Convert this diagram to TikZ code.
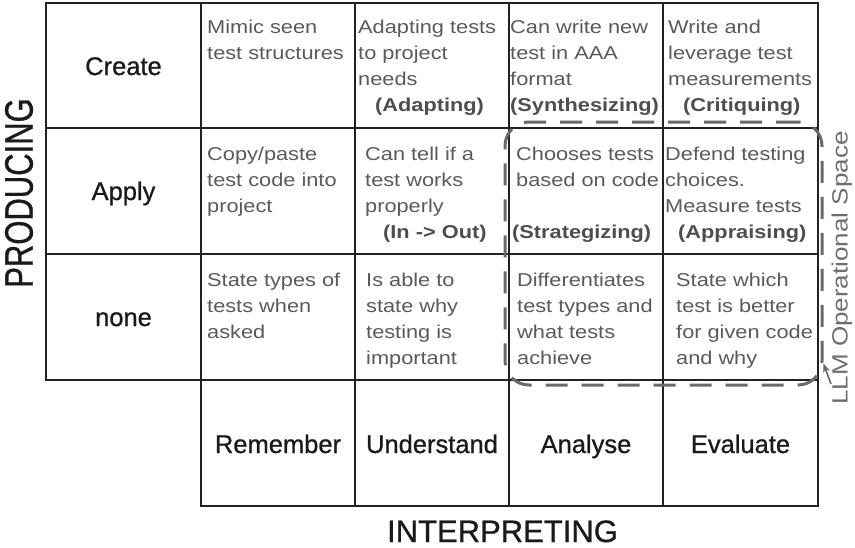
\documentclass[tikz,border=0pt]{standalone}
\usepackage{fontspec}
\setmainfont{Liberation Sans}
\newfontfamily\heavyfont[FakeBold=0.8]{Liberation Sans}
\usepackage{graphicx}
\usetikzlibrary{arrows.meta,calc}
\definecolor{gridc}{HTML}{222222}
\definecolor{cellc}{HTML}{5A5A5A}
\definecolor{boldc}{HTML}{4E4E4E}
\definecolor{labc}{HTML}{1A1A1A}
\definecolor{dashc}{HTML}{6A6A6A}
\definecolor{llmc}{HTML}{6E6E6E}
\newcommand{\ctext}[1]{\scalebox{1.17}[1]{\begin{tabular}[t]{@{}l@{}}#1\end{tabular}}}
\newcommand{\btext}[1]{\scalebox{1.17}[1]{#1}}
\begin{document}
\begin{tikzpicture}[x=1pt,y=-1pt,
  grid/.style={line width=2.4pt, draw=gridc, line cap=rect},
  rowlab/.style={font=\heavyfont\fontsize{25.5}{30}\selectfont, text=labc, inner sep=0, anchor=base},
  cell/.style={font=\fontsize{18.6}{26}\selectfont, text=cellc, anchor=base west, inner sep=0},
  bcell/.style={font=\fontsize{18.6}{26}\selectfont\bfseries, text=boldc, anchor=base west, inner sep=0},
  axislab/.style={font=\heavyfont\fontsize{31}{36}\selectfont, text=labc, inner sep=0},
  dashbox/.style={draw=dashc, line width=3pt, dash pattern=on 22pt off 14pt, rounded corners=24pt, inner sep=0},
  llmlab/.style={font=\fontsize{26}{30}\selectfont, text=llmc, inner sep=0},
  arr/.style={draw=dashc, line width=1.6pt, -{Stealth[length=9pt,width=7pt]}}
]
\useasboundingbox (0,0) rectangle (855,547);
\fill[white] (0,0) rectangle (855,547);

% grid
\foreach \y in {3,128,254,380} \draw[grid] (46,\y) -- (818,\y);
\draw[grid] (201,506) -- (818,506);
\draw[grid] (46,3) -- (46,380);
\foreach \x in {201,355,509,663,818} \draw[grid] (\x,3) -- (\x,506);

% row labels
\node[rowlab] (create) at (123.5,75) {Create};
\node[rowlab] (apply) at (123.5,200) {Apply};
\node[rowlab] (none) at (123.5,326) {none};

% column labels
\node[rowlab] (remember) at (278,453) {Remember};
\node[rowlab] (understand) at (432,453) {Understand};
\node[rowlab] (analyse) at (586,453) {Analyse};
\node[rowlab] (evaluate) at (740.5,453) {Evaluate};

% row 1
\node[cell] (c11) at (207,33) {\ctext{Mimic seen\\test structures}};
\node[cell] (c12) at (358,33) {\ctext{Adapting tests\\to project\\needs}};
\node[cell] (c13) at (510,33) {\ctext{Can write new\\test in AAA\\format}};
\node[cell] (c14) at (668,33) {\ctext{Write and\\leverage test\\measurements}};
\node[bcell] (b12) at (375,111) {\btext{(Adapting)}};
\node[bcell] (b13) at (510,111) {\btext{(Synthesizing)}};
\node[bcell] (b14) at (683,111) {\btext{(Critiquing)}};

% row 2
\node[cell] (c21) at (207,160) {\ctext{Copy/paste\\test code into\\project}};
\node[cell] (c22) at (365,160) {\ctext{Can tell if a\\test works\\properly}};
\node[cell] (c23) at (516,160) {\ctext{Chooses tests\\based on code}};
\node[cell] (c24) at (665,160) {\ctext{Defend testing\\choices.\\Measure tests}};
\node[bcell] (b22) at (383,238) {\btext{(In -> Out)}};
\node[bcell] (b23) at (512,238) {\btext{(Strategizing)}};
\node[bcell] (b24) at (678,238) {\btext{(Appraising)}};

% row 3
\node[cell] (c31) at (207,286) {\ctext{State types of\\tests when\\asked}};
\node[cell] (c32) at (366,286) {\ctext{Is able to\\state why\\testing is\\important}};
\node[cell] (c33) at (517,286) {\ctext{Differentiates\\test types and\\what tests\\achieve}};
\node[cell] (c34) at (676,286) {\ctext{State which\\test is better\\for given code\\and why}};

% axis labels
\node[axislab, rotate=90] (producing) at (19,193) {\scalebox{1}[1.28]{PRODUCING}};
\node[axislab, anchor=base] (interpreting) at (502.5,542) {INTERPRETING};

% LLM operational space
\node[dashbox, minimum width=317pt, minimum height=263pt] (llmbox) at (663.5,253.5) {};
\node[llmlab, rotate=90] (llm) at (842,268) {\scalebox{1}[0.85]{LLM Operational Space}};
\coordinate (arrtail) at (831,384);
\draw[arr] (arrtail) -- ($(llmbox.south east)+(0,-23)$);
\end{tikzpicture}
\end{document}
